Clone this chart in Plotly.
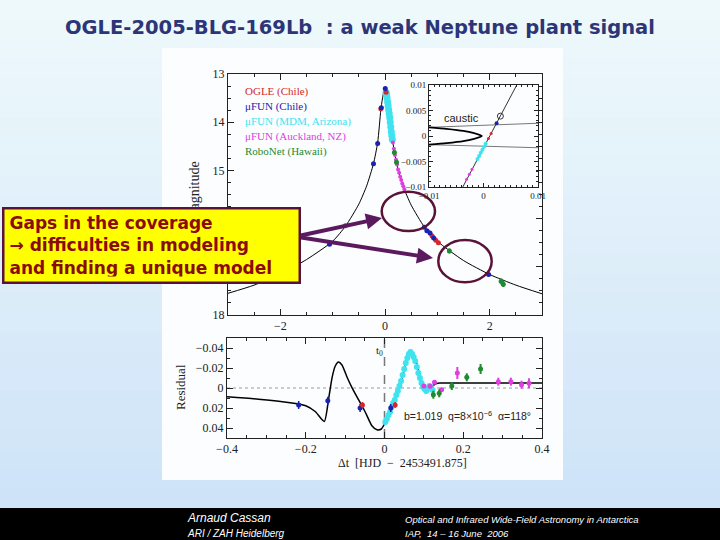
import plotly.graph_objects as go

W, H = 720, 540
def X(px): return px / W
def Y(py): return 1 - py / H

# ---------------- data ----------------
lc_dt = [-3.0, -2.5, -2.0, -1.5, -1.0, -0.75, -0.5, -0.35, -0.22, -0.14, -0.08, -0.05, -0.03, -0.015, 0.0,
         0.015, 0.03, 0.05, 0.08, 0.12, 0.18, 0.25, 0.35, 0.5, 0.75, 1.0, 1.5, 2.0, 2.5, 3.0]
lc_mag = [17.55, 17.38, 17.15, 16.85, 16.47, 16.15, 15.7, 15.32, 14.86, 14.42, 13.75, 13.52, 13.4, 13.33, 13.28,
          13.33, 13.42, 13.58, 13.85, 14.2, 14.62, 14.98, 15.34, 15.72, 16.17, 16.47, 16.87, 17.16, 17.38, 17.56]

ogle_dt = [-0.08, 0.02, 0.9, 0.97, 1.02]
ogle_mag = [13.72, 13.38, 16.36, 16.45, 16.5]
fun_chile_dt = [-1.06, -0.22, -0.14, -0.07, 0.005, 0.75, 0.8, 0.86, 0.93, 1.98]
fun_chile_mag = [16.53, 14.86, 14.44, 13.7, 13.3, 16.18, 16.25, 16.3, 16.4, 17.16]
mdm_dt = [0.02, 0.03, 0.04, 0.05, 0.06, 0.07, 0.08, 0.09, 0.10, 0.11, 0.12, 0.13, 0.14]
mdm_mag = [13.38, 13.42, 13.5, 13.58, 13.66, 13.74, 13.82, 13.9, 14.0, 14.1, 14.2, 14.28, 14.36]
auck_dt = [0.15, 0.17, 0.19, 0.21, 0.23, 0.25, 0.27, 0.29, 0.31, 0.33, 0.35, 0.37, 0.83, 0.88, 0.95]
auck_mag = [14.42, 14.55, 14.68, 14.78, 14.88, 14.98, 15.05, 15.13, 15.2, 15.27, 15.33, 15.39, 16.27, 16.33, 16.42]
robo_dt = [0.18, 0.22, 1.23, 2.22, 2.26]
robo_mag = [14.63, 14.83, 16.67, 17.3, 17.36]
robo_err = [0.05, 0.05, 0.05, 0.06, 0.06]
other_dt = [-0.76]
other_mag = [16.15]

# inset: caustic and trajectory
cusp_x = [-0.0100, -0.0068, -0.0037, -0.0019, -0.0003, -0.0019, -0.0037, -0.0068, -0.0100]
cusp_y = [0.0017, 0.0014, 0.0010, 0.0006, 0.0000, -0.0006, -0.0010, -0.0014, -0.0017]
caus_up_x = [-0.0100, 0.0100]
caus_up_y = [0.0017, 0.0025]
caus_lo_x = [-0.0100, 0.0100]
caus_lo_y = [-0.0017, -0.0023]
traj_x = [-0.0038, 0.0061]
traj_y = [-0.0100, 0.0100]
in_cyan_x = [-0.0011, -0.0008, -0.0005, -0.0002, 0.0001, 0.0004]
in_cyan_y = [-0.0045, -0.0039, -0.0033, -0.0027, -0.0021, -0.0015]
in_mag_x = [-0.0031, -0.0026, -0.0021]
in_mag_y = [-0.0085, -0.0075, -0.0065]
in_red_x = [0.0009, 0.0014]
in_red_y = [-0.0005, 0.0005]
in_blue_x = [0.0024]
in_blue_y = [0.0025]
in_open_x = [0.0031]
in_open_y = [0.0039]

# residual panel
res_dt = [-0.4, -0.32, -0.235, -0.2, -0.176, -0.153, -0.142, -0.133, -0.125, -0.117, -0.108, -0.095, -0.083,
          -0.066, -0.049, -0.032, -0.019, -0.008, 0.0, 0.01, 0.027, 0.044, 0.057, 0.067, 0.078, 0.09, 0.099,
          0.108, 0.118, 0.128, 0.14, 0.16, 0.2, 0.3, 0.4]
res_model = [0.0087, 0.0112, 0.015, 0.0177, 0.0235, 0.0335, 0.011, -0.0107, -0.022, -0.026, -0.023, -0.0107,
             -0.0007, 0.0117, 0.024, 0.0377, 0.0417, 0.041, 0.036, 0.028, 0.011, -0.009, -0.029, -0.0357, -0.029,
             -0.0123, -0.0023, 0.002, 0.0, -0.004, -0.005, -0.005, -0.005, -0.005, -0.005]
res_cyan_dt = [0.002, 0.006, 0.010, 0.014, 0.018, 0.022, 0.026, 0.030, 0.034, 0.038, 0.042, 0.046, 0.050, 0.054,
               0.058, 0.062, 0.066, 0.070, 0.074, 0.078, 0.082, 0.086, 0.090, 0.094, 0.098, 0.102, 0.106, 0.110,
               0.114, 0.118, 0.122]
res_cyan = [0.034, 0.031, 0.027, 0.024, 0.019, 0.015, 0.012, 0.007, 0.003, -0.002, -0.007, -0.013, -0.019, -0.025,
            -0.030, -0.034, -0.036, -0.034, -0.031, -0.027, -0.021, -0.015, -0.010, -0.005, -0.001, 0.001, 0.003,
            0.001, -0.002, -0.001, 0.002]
res_cyan_err = [0.003] * 31
res_blue_dt = [-0.218, -0.144, -0.062, 0.016]
res_blue = [0.017, 0.0127, 0.020, 0.020]
res_blue_err = [0.004, 0.004, 0.004, 0.004]
res_red_dt = [-0.056, 0.027]
res_red = [0.017, 0.017]
res_red_err = [0.003, 0.003]
res_mag_dt = [0.1, 0.116, 0.127, 0.145, 0.185, 0.289, 0.321, 0.348, 0.367]
res_mag = [-0.002, -0.0017, -0.0057, 0.0017, -0.015, -0.0063, -0.0063, -0.0033, -0.0047]
res_mag_err = [0.002, 0.002, 0.002, 0.002, 0.006, 0.004, 0.004, 0.004, 0.005]
res_green_dt = [0.124, 0.139, 0.171, 0.209, 0.244]
res_green = [0.0067, 0.0053, -0.002, -0.0107, -0.019]
res_green_err = [0.004, 0.004, 0.004, 0.004, 0.005]

legend_labels = ["OGLE (Chile)", "μFUN (Chile)", "μFUN (MDM, Arizona)", "μFUN (Auckland, NZ)", "RoboNet (Hawaii)"]

# ---------------- style ----------------
RED, BLUE, CYAN, MAG, GREEN = "#d8262a", "#1a22b0", "#3fe3f0", "#e03ee0", "#1f8a30"
SERIF = "Liberation Serif"
SANS = "Liberation Sans"
NARROW = "Liberation Sans Narrow, Liberation Sans, Arial, sans-serif"

fig = go.Figure()

def pts(x, y, color, ax, size=5, err=None, errw=1, symbol="circle"):
    kw = {}
    if err is not None:
        kw["error_y"] = dict(type="data", array=err, color=color, thickness=errw, width=0)
    fig.add_trace(go.Scatter(x=x, y=y, mode="markers", xaxis="x" + ax, yaxis="y" + ax,
                             marker=dict(color=color, size=size, symbol=symbol, line=dict(width=0)),
                             hoverinfo="skip", showlegend=False, **kw))

def line(x, y, ax, color="black", width=1, dash="solid", shape="linear"):
    fig.add_trace(go.Scatter(x=x, y=y, mode="lines", xaxis="x" + ax, yaxis="y" + ax,
                             line=dict(color=color, width=width, dash=dash, shape=shape, smoothing=0.6),
                             hoverinfo="skip", showlegend=False))

line(lc_dt, lc_mag, "", width=1, shape="spline")
pts(other_dt, other_mag, "#666666", "", size=5)
pts(mdm_dt, mdm_mag, CYAN, "", size=7)
pts(auck_dt, auck_mag, MAG, "", size=4)
pts(ogle_dt, ogle_mag, RED, "", size=5)
pts(fun_chile_dt, fun_chile_mag, BLUE, "", size=5)
pts(robo_dt, robo_mag, GREEN, "", size=5, err=robo_err, errw=2)

line(caus_up_x, caus_up_y, "3", color="#777777", width=1)
line(caus_lo_x, caus_lo_y, "3", color="#777777", width=1)
line(cusp_x, cusp_y, "3", color="black", width=1.8, shape="spline")
line(traj_x, traj_y, "3", color="#333333", width=1)
pts(in_cyan_x, in_cyan_y, CYAN, "3", size=4)
pts(in_mag_x, in_mag_y, MAG, "3", size=3)
pts(in_red_x, in_red_y, RED, "3", size=3)
pts(in_blue_x, in_blue_y, BLUE, "3", size=4)
pts(in_open_x, in_open_y, "#333333", "3", size=6, symbol="circle-open")

line(res_dt, res_model, "2", width=1.5, shape="spline")
pts(res_cyan_dt, res_cyan, CYAN, "2", size=6, err=res_cyan_err, errw=2)
pts(res_blue_dt, res_blue, BLUE, "2", size=5, err=res_blue_err, errw=1.5)
pts(res_red_dt, res_red, RED, "2", size=5, err=res_red_err, errw=1.5)
pts(res_mag_dt, res_mag, MAG, "2", size=5, err=res_mag_err, errw=2)
pts(res_green_dt, res_green, GREEN, "2", size=5, err=res_green_err, errw=2)

# ---------------- axes ----------------
def minor(dt, ln=3):
    return dict(ticks="inside", ticklen=ln, tickcolor="#222", dtick=dt, showgrid=False)

def axstyle(size=12, **kw):
    d = dict(showline=True, linecolor="#222", linewidth=1, mirror="ticks", ticks="inside",
             ticklen=6, tickcolor="#222", showgrid=False, zeroline=False, automargin=False,
             tickfont=dict(family=SERIF, size=size, color="#222"))
    d.update(kw)
    return d

lay = dict(
    width=W, height=H, margin=dict(l=0, r=0, t=0, b=0, pad=0, autoexpand=False),
    paper_bgcolor="#d2e5f8", plot_bgcolor="rgba(0,0,0,0)", showlegend=False,
    xaxis=axstyle(domain=[X(228), X(542)], range=[-3, 3], anchor="y", dtick=2, tick0=0, minor=minor(0.5)),
    yaxis=axstyle(domain=[Y(315), Y(74)], range=[18, 13], anchor="x", dtick=1, minor=minor(0.25)),
    xaxis2=axstyle(domain=[X(227), X(542)], range=[-0.4, 0.4], anchor="y2", dtick=0.2, minor=minor(0.05)),
    yaxis2=axstyle(domain=[Y(438), Y(338)], range=[0.05, -0.05], anchor="x2", dtick=0.02, minor=minor(0.01)),
    xaxis3=axstyle(size=9, domain=[X(429), X(538)], range=[-0.01, 0.01], anchor="y3", dtick=0.01, ticklen=4,
                   minor=minor(0.001, 2)),
    yaxis3=axstyle(size=9, domain=[Y(187), Y(85)], range=[-0.01, 0.01], anchor="x3", dtick=0.005, ticklen=4,
                   minor=minor(0.001, 2)),
)
fig.update_layout(**lay)

# ---------------- shapes ----------------
shapes = []
top_c = (238, 249, 251)
bot_c = (206, 227, 248)
n = 26
for i in range(n):
    t = i / (n - 1)
    c = tuple(int(round(top_c[k] + (bot_c[k] - top_c[k]) * t)) for k in range(3))
    shapes.append(dict(type="rect", xref="paper", yref="paper", layer="below",
                       x0=0, x1=1, y0=Y(508 * (i + 1) / n + 1), y1=Y(508 * i / n),
                       fillcolor="rgb(%d,%d,%d)" % c, line=dict(width=0)))
shapes.append(dict(type="rect", xref="paper", yref="paper", layer="below", x0=0, x1=1, y0=0, y1=Y(508),
                   fillcolor="black", line=dict(width=0)))
shapes.append(dict(type="rect", xref="paper", yref="paper", layer="below", x0=X(162), x1=X(563),
                   y0=Y(480), y1=Y(48), fillcolor="#fbfdfe", line=dict(width=0)))
shapes.append(dict(type="line", xref="x2", yref="y2 domain", x0=0, x1=0, y0=0, y1=1, layer="below",
                   line=dict(color="#777", width=1.5, dash="dash")))
shapes.append(dict(type="line", xref="x2 domain", yref="y2", x0=0, x1=1, y0=0, y1=0, layer="below",
                   line=dict(color="#999", width=1, dash="dot")))
shapes.append(dict(type="circle", xref="paper", yref="paper", x0=X(381.7), x1=X(435), y0=Y(231), y1=Y(191.7),
                   line=dict(color="#5b1239", width=2.5), layer="above"))
shapes.append(dict(type="circle", xref="paper", yref="paper", x0=X(438.3), x1=X(491.7), y0=Y(282.3), y1=Y(240),
                   line=dict(color="#5b1239", width=2.5), layer="above"))
fig.update_layout(shapes=shapes)

# ---------------- annotations ----------------
ann = []
def txt(text, px, py, size, color="#222", family=SERIF, xanchor="center", yanchor="middle", angle=0):
    ann.append(dict(text=text, x=X(px), y=Y(py), xref="paper", yref="paper", showarrow=False,
                    xanchor=xanchor, yanchor=yanchor, textangle=angle,
                    font=dict(size=size, color=color, family=family)))

txt("<b>OGLE-2005-BLG-169Lb&nbsp;&nbsp;: a weak Neptune plant signal</b>", 360, 27, 19.5, color="#2c3577",
    family="DejaVu Sans")

for i, (lab, col) in enumerate(zip(legend_labels, [RED, BLUE, CYAN, MAG, GREEN])):
    txt(lab, 243, 91.7 + 15 * i, 11, color=col, xanchor="left")

txt("Magnitude", 194, 192, 14, angle=-90)
txt("Residual", 180, 387, 13, angle=-90)
txt("Δt&nbsp;&nbsp;[HJD&nbsp;&nbsp;−&nbsp;&nbsp;2453491.875]", 402, 463, 12)

ann.append(dict(text="caustic", x=-0.004, y=0.0035, xref="x3", yref="y3", showarrow=False,
                font=dict(size=11, family=SANS, color="#222")))
ann.append(dict(text="t<sub>0</sub>", x=-0.012, y=-0.037, xref="x2", yref="y2", showarrow=False,
                font=dict(size=11, family=SERIF, color="#222")))
ann.append(dict(text="b=1.019&nbsp;&nbsp;q=8×10<sup>−6</sup>&nbsp;&nbsp;α=118°", x=0.21, y=0.027,
                xref="x2", yref="y2", showarrow=False, font=dict(size=10.5, family=SANS, color="#222")))

for (hx, hy, tx, ty) in [(382, 218, 298, 236), (433, 258, 298, 237)]:
    ann.append(dict(text="", x=X(hx), y=Y(hy), xref="paper", yref="paper", showarrow=True,
                    ax=tx - hx, ay=ty - hy, arrowhead=2, arrowsize=0.8, arrowwidth=4,
                    arrowcolor="#5c1a5e", standoff=0))

ann.append(dict(text="<b>Gaps in the coverage<br>→ difficulties in modeling<br>and finding a unique model</b>",
                x=X(2), y=Y(207), xref="paper", yref="paper", showarrow=False, xanchor="left", yanchor="top",
                align="left", valign="middle", width=284, height=62, borderpad=5,
                bgcolor="#ffff00", bordercolor="#5a1040", borderwidth=2.5,
                font=dict(size=17, color="#8b0a0a", family="DejaVu Sans")))

txt("<i>Arnaud Cassan</i>", 185, 518, 12, color="white", family=NARROW, xanchor="left")
txt("<i>ARI / ZAH Heidelberg</i>", 185, 533, 10, color="white", family=NARROW, xanchor="left")
txt("<i>Optical and Infrared Wide-Field Astronomy in Antarctica</i>", 403, 519, 9.5, color="white",
    family=NARROW, xanchor="left")
txt("<i>IAP,&nbsp;&nbsp;14 – 16 June&nbsp;&nbsp;2006</i>", 403, 533, 9.5, color="white",
    family=NARROW, xanchor="left")

fig.update_layout(annotations=ann)

post = ("document.documentElement.style.margin='0';document.body.style.margin='0';"
        "document.documentElement.style.overflow='hidden';document.body.style.overflow='hidden';")
fig.write_html("out.html", config={"displayModeBar": False}, post_script=post)
